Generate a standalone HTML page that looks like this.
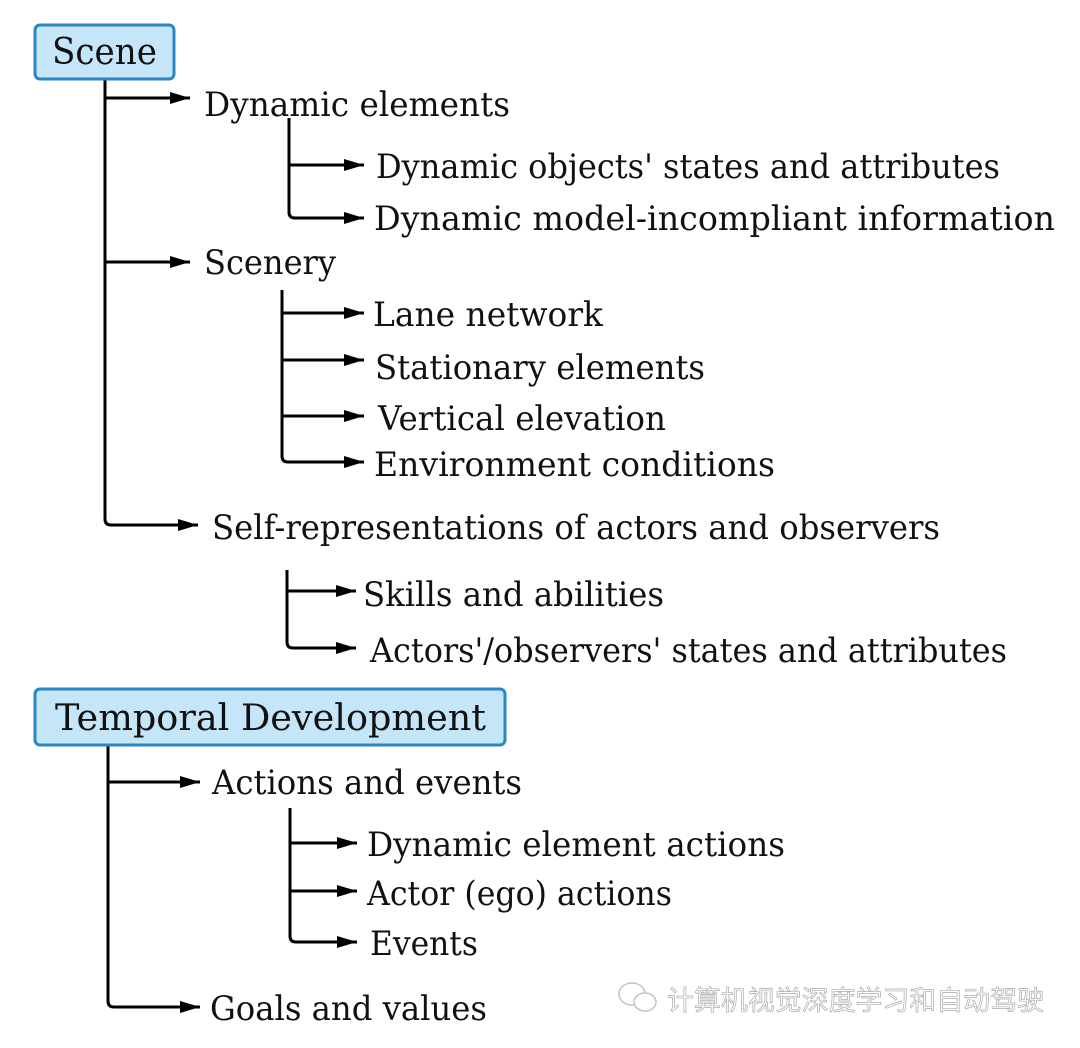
<!DOCTYPE html>
<html><head><meta charset="utf-8"><style>
html,body{margin:0;padding:0;background:#fff;}
svg{display:block;}
text{font-family:"DejaVu Serif","Liberation Serif",serif;font-size:34px;fill:#111;}
</style></head><body>
<svg width="1080" height="1048" viewBox="0 0 1080 1048" xmlns="http://www.w3.org/2000/svg">
<defs>
<marker id="a" markerWidth="22" markerHeight="14" refX="20" refY="7" orient="auto" markerUnits="userSpaceOnUse">
<path d="M0,1 L20,7 L0,13 Z" fill="#000"/>
</marker>
</defs>
<g fill="none" stroke="#000" stroke-width="3" stroke-linejoin="round">
<path d="M105,80 V519 Q105,525 111,525 H198" marker-end="url(#a)"/>
<path d="M105,98 H190" marker-end="url(#a)"/>
<path d="M105,262 H190" marker-end="url(#a)"/>
<path d="M289,118 V212 Q289,218 295,218 H364" marker-end="url(#a)"/>
<path d="M289,165 H364" marker-end="url(#a)"/>
<path d="M282,290 V456 Q282,462 288,462 H364" marker-end="url(#a)"/>
<path d="M282,313 H364" marker-end="url(#a)"/>
<path d="M282,360 H364" marker-end="url(#a)"/>
<path d="M282,416 H364" marker-end="url(#a)"/>
<path d="M287,570 V642 Q287,648 293,648 H356" marker-end="url(#a)"/>
<path d="M287,591 H356" marker-end="url(#a)"/>
<path d="M108,746 V1001 Q108,1007 114,1007 H200" marker-end="url(#a)"/>
<path d="M108,782 H200" marker-end="url(#a)"/>
<path d="M290,808 V936 Q290,942 296,942 H357" marker-end="url(#a)"/>
<path d="M290,843 H357" marker-end="url(#a)"/>
<path d="M290,891 H357" marker-end="url(#a)"/>
</g>
<rect x="35" y="25" width="139" height="54" rx="5" fill="#c5e6f8" stroke="#2a86c4" stroke-width="3"/>
<rect x="35" y="689" width="470" height="56" rx="5" fill="#c5e6f8" stroke="#2a86c4" stroke-width="3"/>
<text x="52" y="64" textLength="105" lengthAdjust="spacingAndGlyphs" style="font-size:36px">Scene</text>
<text x="204" y="116" textLength="306" lengthAdjust="spacingAndGlyphs">Dynamic elements</text>
<text x="376" y="178" textLength="624" lengthAdjust="spacingAndGlyphs">Dynamic objects' states and attributes</text>
<text x="374" y="230" textLength="681" lengthAdjust="spacingAndGlyphs">Dynamic model-incompliant information</text>
<text x="204" y="274" textLength="132" lengthAdjust="spacingAndGlyphs">Scenery</text>
<text x="373" y="326" textLength="230" lengthAdjust="spacingAndGlyphs">Lane network</text>
<text x="375" y="379" textLength="330" lengthAdjust="spacingAndGlyphs">Stationary elements</text>
<text x="378" y="430" textLength="288" lengthAdjust="spacingAndGlyphs">Vertical elevation</text>
<text x="374" y="476" textLength="401" lengthAdjust="spacingAndGlyphs">Environment conditions</text>
<text x="212" y="539" textLength="728" lengthAdjust="spacingAndGlyphs">Self-representations of actors and observers</text>
<text x="363" y="606" textLength="301" lengthAdjust="spacingAndGlyphs">Skills and abilities</text>
<text x="370" y="662" textLength="637" lengthAdjust="spacingAndGlyphs">Actors'/observers' states and attributes</text>
<text x="55" y="730" textLength="431" lengthAdjust="spacingAndGlyphs" style="font-size:36px">Temporal Development</text>
<text x="212" y="794" textLength="310" lengthAdjust="spacingAndGlyphs">Actions and events</text>
<text x="367" y="856" textLength="418" lengthAdjust="spacingAndGlyphs">Dynamic element actions</text>
<text x="367" y="905" textLength="305" lengthAdjust="spacingAndGlyphs">Actor (ego) actions</text>
<text x="370" y="955" textLength="108" lengthAdjust="spacingAndGlyphs">Events</text>
<text x="210" y="1020" textLength="277" lengthAdjust="spacingAndGlyphs">Goals and values</text>
<g fill="none" stroke="#c4c4c4" stroke-width="1.5">
<ellipse cx="632" cy="994" rx="13" ry="11"/>
<ellipse cx="645" cy="1002" rx="11" ry="9" fill="#fff"/>
</g>
<text x="667" y="1010" textLength="377" lengthAdjust="spacingAndGlyphs" style="font-family:'Noto Sans CJK SC',sans-serif;font-size:27px;fill:#fff;stroke:#aaa;stroke-width:0.7">计算机视觉深度学习和自动驾驶</text>
</svg>
</body></html>
